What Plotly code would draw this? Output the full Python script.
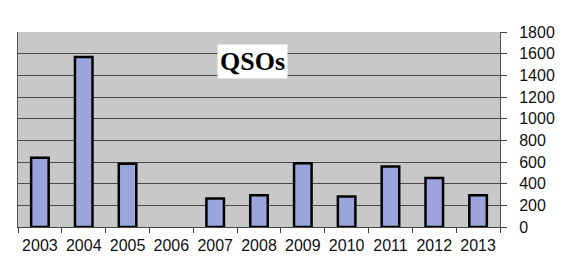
import plotly.graph_objects as go

years = ["2003", "2004", "2005", "2006", "2007", "2008", "2009", "2010", "2011", "2012", "2013"]
qsos = [640, 1570, 585, None, 262, 292, 588, 282, 558, 452, 292]
y_ticks = [0, 200, 400, 600, 800, 1000, 1200, 1400, 1600, 1800]
title_text = "QSOs"

fig = go.Figure()
fig.add_trace(go.Bar(
    x=years, y=qsos,
    marker=dict(color="#9ba5dc", line=dict(color="#000000", width=2.5)),
))

fig.update_layout(
    width=564, height=267,
    margin=dict(l=18, r=64, t=32, b=40),
    paper_bgcolor="white",
    plot_bgcolor="#c8c8c8",
    bargap=0.6,
    showlegend=False,
    font=dict(family="Liberation Sans", size=16, color="#111111"),
    xaxis=dict(
        type="category",
        tickson="boundaries",
        tickangle=0,
        ticks="outside", ticklen=5, tickcolor="#444444", tickwidth=1,
        ticklabelstandoff=4,
        showline=True, linecolor="#444444", linewidth=1,
        showgrid=False,
        automargin=False,
        tickfont=dict(size=16, color="#111111"),
    ),
    yaxis=dict(
        side="right",
        range=[0, 1800],
        tickvals=y_ticks,
        ticktext=[str(v) for v in y_ticks],
        ticks="outside", ticklen=6, tickcolor="#444444", tickwidth=1,
        ticklabelstandoff=9,
        showline=True, mirror=True, linecolor="#555555", linewidth=1,
        showgrid=True, gridcolor="#4a4a4a", gridwidth=1,
        zeroline=False,
        automargin=False,
        tickfont=dict(size=16, color="#111111"),
    ),
    annotations=[dict(
        text="<b>" + title_text + "</b>",
        xref="paper", yref="paper",
        x=(252 - 18) / (564 - 18 - 64), y=1 - (61.5 - 32) / (267 - 32 - 40),
        xanchor="center", yanchor="middle",
        showarrow=False,
        bgcolor="white",
        borderpad=2,
        font=dict(family="Liberation Serif", size=26, color="#000000"),
    )],
)

fig.write_html("out.html", config={"displayModeBar": False},
               post_script="document.body.style.margin='0';")
